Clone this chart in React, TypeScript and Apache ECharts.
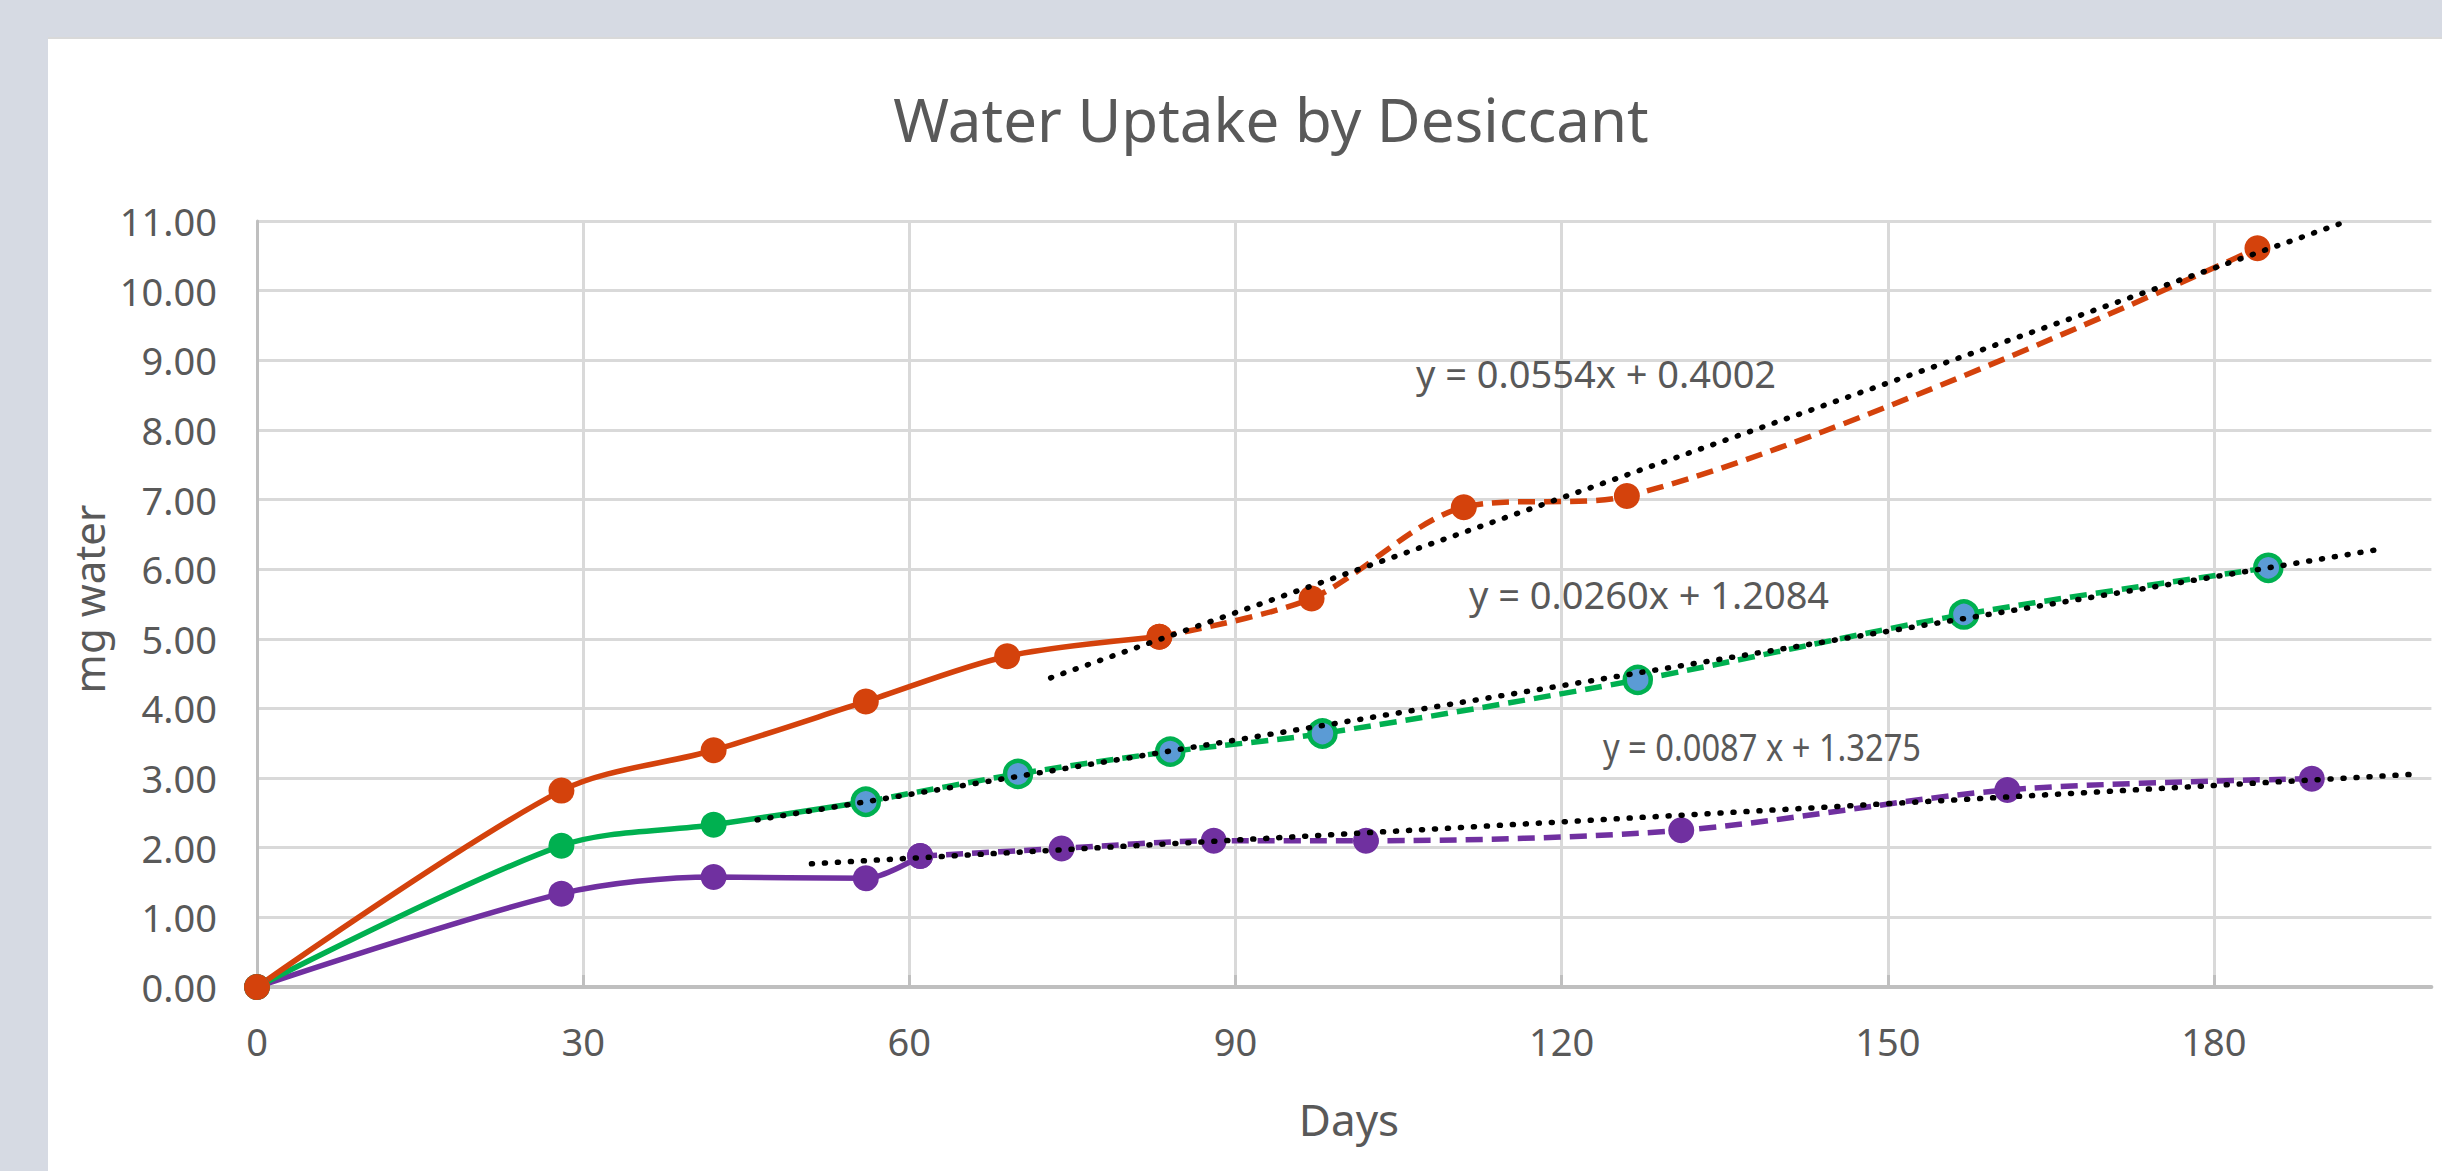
import React, { useEffect, useRef } from "react";
import * as echarts from "echarts";

// ---- data ----
const xTickValues = [0, 30, 60, 90, 120, 150, 180];

const orangeEarlyDays = [0, 28, 42, 56, 69, 83];
const orangeEarlyVals = [0, 2.82, 3.4, 4.1, 4.75, 5.03];
const orangeLateDays = [83, 97, 111, 126, 184];
const orangeLateVals = [5.03, 5.58, 6.89, 7.05, 10.61];

const greenEarlyDays = [0, 28, 42, 56];
const greenEarlyVals = [0, 2.03, 2.33, 2.66];
const greenLateDays = [56, 70, 84, 98, 127, 157, 185];
const greenLateVals = [2.66, 3.06, 3.38, 3.64, 4.41, 5.35, 6.02];

const purpleEarlyDays = [0, 28, 42, 56, 61];
const purpleEarlyVals = [0, 1.34, 1.58, 1.56, 1.88];
const purpleLateDays = [61, 74, 88, 102, 131, 161, 189];
const purpleLateVals = [1.88, 1.99, 2.1, 2.1, 2.25, 2.83, 2.99];

// trendline end points
const orangeTrendDays = [73, 192.3];
const orangeTrendVals = [4.44, 11.0];
const greenTrendDays = [46, 195];
const greenTrendVals = [2.4, 6.28];
const purpleTrendDays = [51, 199];
const purpleTrendVals = [1.77, 3.06];

const equationTexts = [
  "y = 0.0554x + 0.4002",
  "y = 0.0260x + 1.2084",
  "y = 0.0087 x + 1.3275",
];

const titleText = "Water Uptake by Desiccant";
const xTitle = "Days";
const yTitle = "mg water";

const ORANGE = "#D4420C";
const GREEN = "#00B050";
const PURPLE = "#7030A0";
const BLUE = "#5B9BD5";
const TEXT = "#595959";
const FONT = "'Noto Sans', 'Open Sans', sans-serif";

const zip = (xs: number[], ys: number[]) => xs.map((x, i) => [x, ys[i]]);

export default function App() {
  const ref = useRef<HTMLDivElement>(null);

  useEffect(() => {
    if (!ref.current) return;
    const chart = echarts.init(ref.current, undefined, { renderer: "svg" });

    const lineW = 5.5;
    const dash = [17, 9];
    const mk = 26;
    const sm = 0.3;

    const early = (name: string, xs: number[], ys: number[], color: string) => ({
      name,
      type: "line",
      data: zip(xs, ys),
      smooth: sm,
      symbol: "circle",
      symbolSize: mk,
      silent: true,
      lineStyle: { color, width: lineW, type: "solid" },
      itemStyle: { color },
      z: 3,
    });
    const late = (
      name: string,
      xs: number[],
      ys: number[],
      color: string,
      fill?: string
    ) => ({
      name,
      type: "line",
      data: zip(xs, ys),
      smooth: sm,
      symbol: "circle",
      symbolSize: mk,
      silent: true,
      lineStyle: { color, width: lineW, type: dash },
      itemStyle: fill
        ? { color: fill, borderColor: color, borderWidth: 4.5 }
        : { color },
      z: 4,
    });
    const trend = (name: string, xs: number[], ys: number[]) => ({
      name,
      type: "line",
      data: zip(xs, ys),
      symbol: "none",
      silent: true,
      lineStyle: { color: "#000000", width: 5.5, type: [1, 12], cap: "round" },
      z: 6,
    });

    const option: any = {
      animation: false,
      backgroundColor: "#ffffff",
      grid: { left: 209, top: 182, width: 2174.4, height: 766, containLabel: false },
      xAxis: {
        type: "value",
        min: 0,
        max: 200,
        interval: 30,
        axisLine: { show: true, lineStyle: { color: "#BFBFBF", width: 4 } },
        axisTick: { show: true, inside: true, length: 12, lineStyle: { color: "#BFBFBF", width: 3 } },
        axisLabel: {
          color: TEXT,
          fontFamily: FONT,
          fontSize: 38,
          margin: 35,
          showMaxLabel: false,
          formatter: (v: number) => (xTickValues.indexOf(v) >= 0 ? String(v) : ""),
        },
        splitLine: { show: true, showMaxLine: false, lineStyle: { color: "#D9D9D9", width: 3 } },
      },
      yAxis: {
        type: "value",
        min: 0,
        max: 11,
        interval: 1,
        axisLine: { show: true, lineStyle: { color: "#BFBFBF", width: 3 } },
        axisTick: { show: false },
        axisLabel: {
          color: TEXT,
          fontFamily: FONT,
          fontSize: 38,
          margin: 40,
          formatter: (v: number) => v.toFixed(2),
        },
        splitLine: { show: true, lineStyle: { color: "#D9D9D9", width: 3 } },
      },
      series: [
        early("Purple early", purpleEarlyDays, purpleEarlyVals, PURPLE),
        late("Purple late", purpleLateDays, purpleLateVals, PURPLE),
        early("Green early", greenEarlyDays, greenEarlyVals, GREEN),
        late("Green late", greenLateDays, greenLateVals, GREEN, BLUE),
        early("Orange early", orangeEarlyDays, orangeEarlyVals, ORANGE),
        late("Orange late", orangeLateDays, orangeLateVals, ORANGE),
        trend("Orange trend", orangeTrendDays, orangeTrendVals),
        trend("Green trend", greenTrendDays, greenTrendVals),
        trend("Purple trend", purpleTrendDays, purpleTrendVals),
      ],
      graphic: [
        {
          type: "text",
          x: 1223,
          y: 80,
          silent: true,
          style: {
            text: titleText,
            fill: TEXT,
            font: `60px ${FONT}`,
            textAlign: "center",
            textVerticalAlign: "middle",
          },
        },
        {
          type: "text",
          x: 1301,
          y: 1080,
          silent: true,
          style: {
            text: xTitle,
            fill: TEXT,
            font: `44px ${FONT}`,
            textAlign: "center",
            textVerticalAlign: "middle",
          },
        },
        {
          type: "text",
          x: 40,
          y: 560,
          rotation: Math.PI / 2,
          silent: true,
          style: {
            text: yTitle,
            fill: TEXT,
            font: `42px ${FONT}`,
            textAlign: "center",
            textVerticalAlign: "middle",
          },
        },
        {
          type: "text",
          x: 1548,
          y: 334,
          silent: true,
          z: 10,
          style: {
            text: equationTexts[0],
            fill: TEXT,
            font: `38px ${FONT}`,
            textAlign: "center",
            textVerticalAlign: "middle",
          },
        },
        {
          type: "text",
          x: 1601,
          y: 555,
          silent: true,
          z: 10,
          style: {
            text: equationTexts[1],
            fill: TEXT,
            font: `38px ${FONT}`,
            textAlign: "center",
            textVerticalAlign: "middle",
          },
        },
        {
          type: "text",
          x: 1714,
          y: 707,
          scaleX: 0.86,
          silent: true,
          z: 10,
          style: {
            text: equationTexts[2],
            fill: TEXT,
            font: `38px ${FONT}`,
            textAlign: "center",
            textVerticalAlign: "middle",
          },
        },
      ],
    };

    chart.setOption(option);
    return () => chart.dispose();
  }, []);

  return (
    <div
      style={{
        position: "fixed",
        left: 0,
        top: 0,
        width: 2442,
        height: 1171,
        background: "#D6DAE3",
        overflow: "hidden",
      }}
    >
      <div
        style={{
          position: "absolute",
          left: 48,
          top: 37,
          width: 2394,
          height: 1134,
          background: "#ffffff",
          borderTop: "2px solid #D9D9D9",
        }}
      >
        <div ref={ref} style={{ width: 2394, height: 1132 }} />
      </div>
    </div>
  );
}
